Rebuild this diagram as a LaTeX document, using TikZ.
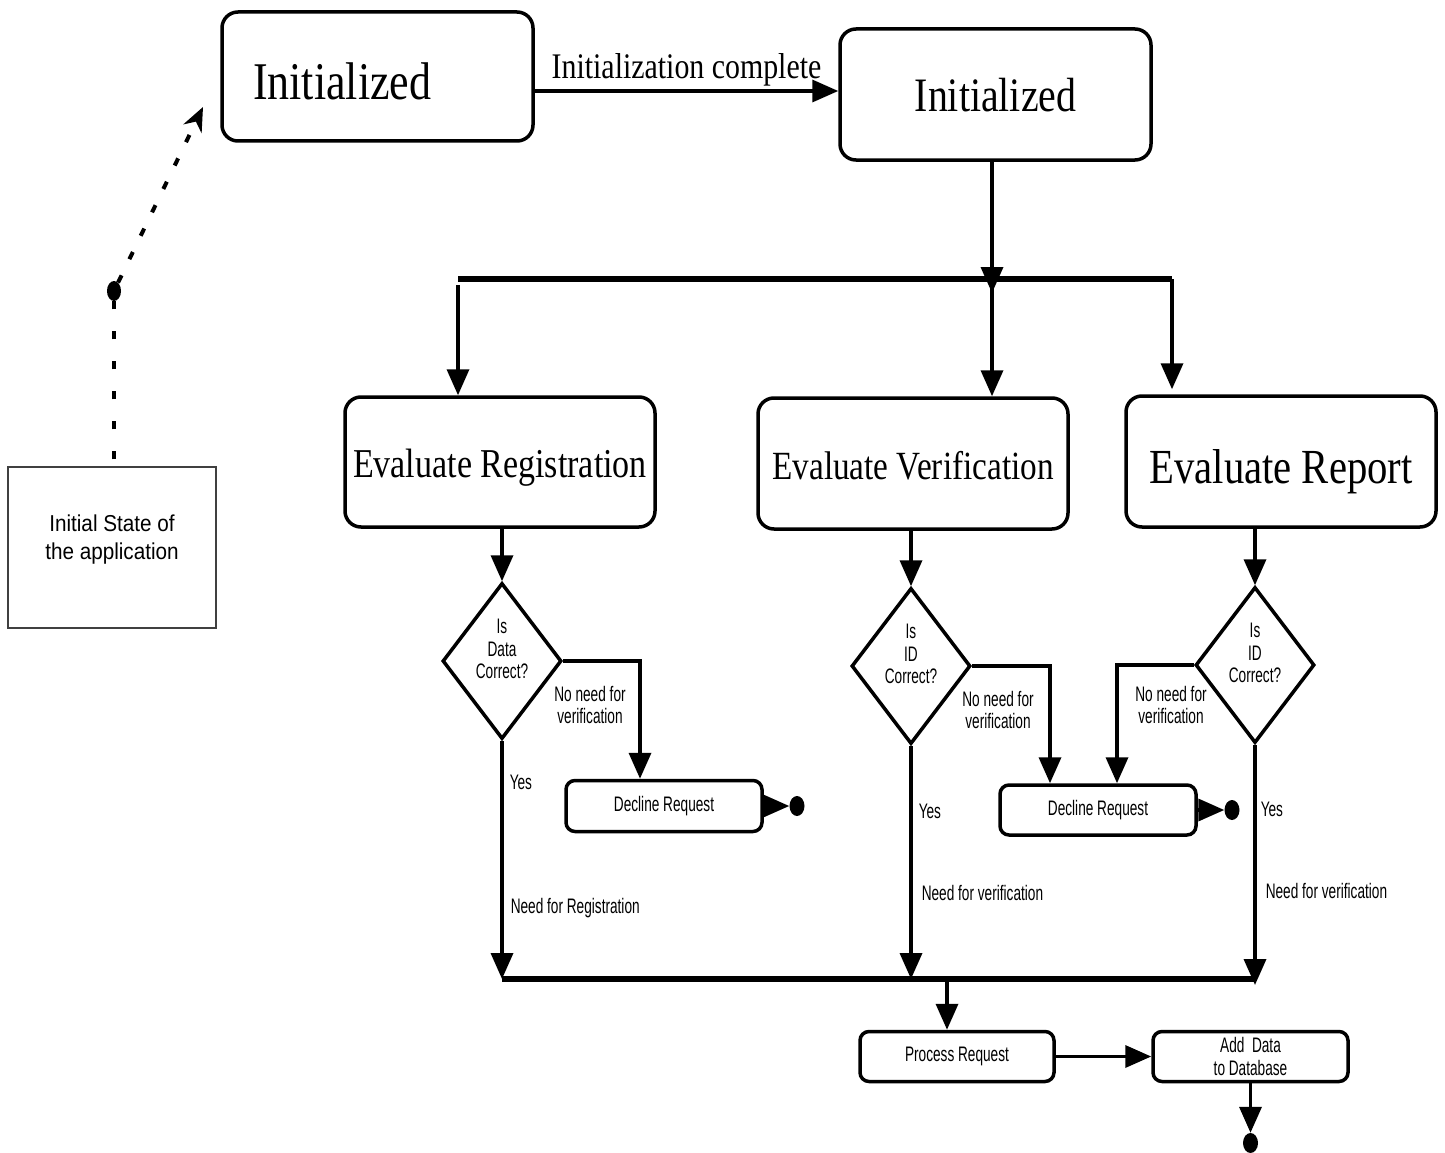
\documentclass[tikz,border=0pt]{standalone}
\usepackage{fontspec}
\usetikzlibrary{arrows.meta}
\usetikzlibrary{shapes.geometric}
\usetikzlibrary{positioning}
\newfontfamily\statefont[FakeStretch=0.83]{Liberation Serif}
\newfontfamily\notefont[FakeStretch=0.65]{Liberation Sans}
\newfontfamily\boxfont[FakeStretch=0.9]{Liberation Sans}
\newcommand{\statesize}[1]{\statefont\fontsize{#1}{#1}\selectfont}
\tikzset{State/.style={draw, line width=3.5pt, rounded corners=16pt, inner sep=0pt, text depth=0pt},
         Action/.style={draw, line width=3.5pt, rounded corners=9pt, minimum width=196pt, minimum height=51pt, inner sep=0pt, align=center, font=\notefont\fontsize{21}{22.5}\selectfont},
         Choice/.style={draw, diamond, shape aspect=0.76, line width=3.5pt, minimum width=119pt, minimum height=156pt, inner sep=0pt, align=center, text depth=24pt, font=\notefont\fontsize{21}{22.5}\selectfont},
         Note/.style={inner sep=0pt, align=center, font=\notefont\fontsize{21}{22}\selectfont},
         Flow/.style={line width=3.5pt, -{Triangle[length=26pt,width=22pt]}},
         Bar/.style={line width=5.5pt},
         Stop/.style={ellipse, fill, minimum width=15pt, minimum height=20pt, inner sep=0pt}}

\begin{document}
\begin{tikzpicture}[x=1pt, y=-1pt]
  \fill[white] (0,0) rectangle (1445,1153);
  \useasboundingbox (0,0) rectangle (1445,1153);
    \node[State, minimum width=311pt, minimum height=129pt, text width=249pt, align=left, text height=47pt, font=\statesize{53}] (init) at (377.5,76.5) {Initialized};
    \node[State, minimum width=311pt, minimum height=131pt, text height=35pt, font=\statesize{48}] (ready) at (995.5,94.5) {Initialized};
    \node[State, minimum width=310pt, minimum height=130pt, text height=30pt, font=\statesize{41}] (evalReg) at (500,462) {Evaluate Registration};
    \node[State, minimum width=310pt, minimum height=131pt, text height=31pt, font=\statesize{40}] (evalVer) at (913,463.5) {Evaluate Verification};
    \node[State, minimum width=310pt, minimum height=131pt, text height=43pt, font=\statesize{49}] (evalRep) at (1281,461.5) {Evaluate Report};
    \node[Choice] (chkData) at (502,661) {Is\\Data\\Correct?};
    \node[Choice] (chkVerID) at (911,666) {Is\\ID\\Correct?};
    \node[Choice] (chkRepID) at (1255,665) {Is\\ID\\Correct?};
    \node[Action] (declineReg) at (664,806) {Decline Request};
    \node[Action, minimum height=50pt] (declineID) at (1098,810) {Decline Request};
    \node[Action, minimum width=194pt, minimum height=50pt] (process) at (957,1056.5) {Process Request};
    \node[Action, minimum width=195pt, minimum height=50pt] (store) at (1250.5,1056.5) {Add\ \ Data\\to Database};
    \node[Stop] (stopReg) at (797,806) {};
    \node[Stop] (stopID) at (1232,810) {};
    \node[Stop] (stopEnd) at (1250.5,1143) {};
    \node[Stop, minimum width=14pt] (startDot) at (114,291) {};
    \node[draw=black!75, line width=1.2pt, minimum width=208pt, minimum height=161pt, inner sep=0pt, align=center, text depth=21pt, font=\boxfont\fontsize{23}{28}\selectfont] (initial) at (112,547.5) {Initial State of\\the application};
    \node[Note] (noteReg) at (590,705) {No need for\\verification};
    \node[Note] (noteVer) at (998,710) {No need for\\verification};
    \node[Note] (noteRep) at (1171,705) {No need for\\verification};
    \coordinate (forkL) at (458,279);
    \coordinate (forkM) at (992,279);
    \coordinate (forkR) at (1172,279);
    \coordinate (joinL) at (502,979);
    \coordinate (joinM) at (947,979);
    \coordinate (joinR) at (1255,979);
    \coordinate (entry) at (203,107);
  \draw[Flow] ([yshift=-14.5pt]init.east) -- ([yshift=-14.5pt]init.east -| ready.west)
    node[midway, above=3pt, inner sep=0pt, font=\statesize{36}] {Initialization complete};
  \draw[Flow, shorten >=-14pt] (ready.south -| forkM) -- (forkM);
  \draw[Bar] (forkL) -- (forkR);
  \draw[Flow] ([yshift=-6pt]forkL) -- (forkL |- evalReg.north);
  \draw[Flow] (forkM) -- (forkM |- evalVer.north);
  \draw[Flow, shorten >=5pt] (forkR) -- (forkR |- evalRep.north);
  \draw[Flow] (chkData |- evalReg.south) -- (chkData.north);
  \draw[Flow] (chkVerID |- evalVer.south) -- (chkVerID.north);
  \draw[Flow] (chkRepID |- evalRep.south) -- (chkRepID.north);
  \draw[Flow] (chkData.east) -| ([xshift=-24pt]declineReg.north);
  \draw[Flow] (chkVerID.east) -| ([xshift=-48pt]declineID.north);
  \draw[Flow] (chkRepID.west) -| ([xshift=19pt]declineID.north);
  \draw[Flow] (declineReg.east) -- (stopReg);
  \draw[Flow] (declineID.east) -- (stopID);
  \draw[Flow] (chkData.south) -- (joinL)
    node[pos=0.175, right=6pt, Note] {Yes}
    node[pos=0.704, right=7pt, Note] {Need for Registration};
  \draw[Flow] (chkVerID.south) -- (chkVerID.south |- joinM)
    node[pos=0.28, right=6pt, Note] {Yes}
    node[pos=0.63, right=9pt, Note] {Need for verification};
  \draw[Flow, shorten >=-6pt] (chkRepID.south) -- (joinR)
    node[pos=0.275, right=4pt, Note] {Yes}
    node[pos=0.623, right=9pt, Note] {Need for verification};
  \draw[Bar] (joinL) -- (joinR);
  \draw[Flow] (joinM) -- (joinM |- process.north);
  \draw[Flow] (process.east) -- (store.west);
  \draw[Flow] (store.south) -- (stopEnd);
  \draw[line width=4pt, dash pattern=on 8pt off 22pt, shorten <=7pt] (startDot |- initial.north) -- (startDot);
  \draw[line width=4pt, dash pattern=on 8pt off 18pt, -{Stealth[length=24pt,width=20pt]}] (startDot) -- (entry);
\end{tikzpicture}
\end{document}
